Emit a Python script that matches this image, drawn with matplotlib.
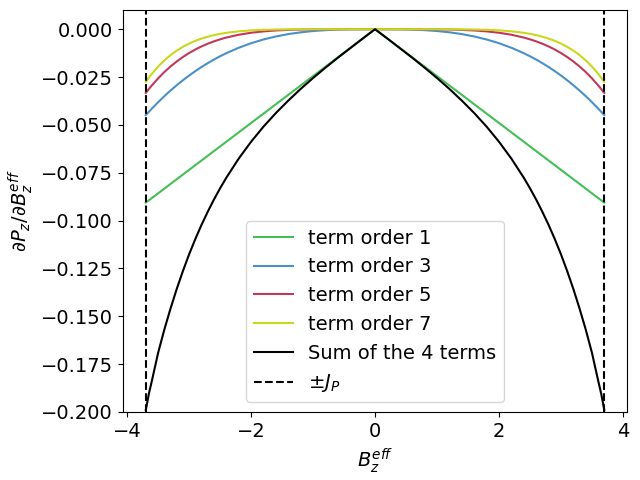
import matplotlib
matplotlib.use("Agg")
import matplotlib.pyplot as plt
import numpy as np

plt.rcParams['font.size'] = 14

# Values (positive half; curves are symmetric in B)
b_pos = [0.0, 0.2, 0.4, 0.6, 0.8, 1.0, 1.2, 1.4, 1.6, 1.8, 2.0, 2.2, 2.4,
         2.5, 2.6, 2.7, 2.8, 2.9, 3.0, 3.1, 3.2, 3.3, 3.4, 3.5, 3.6, 3.65, 3.7]
order1 = [0.0, -0.0049, -0.0098, -0.0147, -0.0196, -0.0245, -0.0294, -0.0343,
          -0.0392, -0.0441, -0.0490, -0.0539, -0.0588,
          -0.06125, -0.0637, -0.06615, -0.0686, -0.07105, -0.0735, -0.07595,
          -0.0784, -0.08085, -0.0833, -0.08575, -0.0882, -0.08943, -0.0906]
order3 = [0.0, -0.00001, -0.00006, -0.00021, -0.00049, -0.00095, -0.00162,
          -0.00255, -0.00379, -0.00536, -0.00731, -0.00969, -0.01252,
          -0.01413, -0.01585, -0.01773, -0.01973, -0.02188, -0.02419, -0.02664,
          -0.02927, -0.03204, -0.03498, -0.03811, -0.04142, -0.04314, -0.0449]
order5 = [0.0, 0.0, 0.0, -0.00001, -0.00002, -0.00007, -0.00017, -0.00035,
          -0.00065, -0.00113, -0.00185, -0.00289, -0.00435,
          -0.00528, -0.00634, -0.00757, -0.00898, -0.01060, -0.01243, -0.01450,
          -0.01684, -0.01945, -0.02237, -0.02565, -0.02928, -0.03124, -0.0333]
order7 = [0.0, 0.0, 0.0, 0.0, 0.0, -0.00001, -0.00003, -0.00007, -0.00015,
          -0.00032, -0.00061, -0.00110, -0.00188,
          -0.00242, -0.00309, -0.00390, -0.00488, -0.00607, -0.00749, -0.00918,
          -0.01118, -0.01353, -0.01628, -0.01948, -0.02320, -0.02528, -0.0275]
total = [0.0, -0.0049, -0.0099, -0.0149, -0.0201, -0.0255, -0.0312, -0.0373,
         -0.0438, -0.0509, -0.0588, -0.0676, -0.0776,
         -0.0831, -0.0890, -0.0954, -0.1022, -0.1096, -0.1176, -0.1263,
         -0.1357, -0.1459, -0.1569, -0.1690, -0.1835, -0.1905, -0.1990]
J_P = 3.7

labels = ["term order 1", "term order 3", "term order 5", "term order 7",
          "Sum of the 4 terms"]
colors = ["#44bf55", "#4a90c8", "#c0395a", "#c8d81a", "black"]


def mirror(xs, ys):
    xs = np.asarray(xs)
    ys = np.asarray(ys)
    return (np.concatenate([-xs[:0:-1], xs]),
            np.concatenate([ys[:0:-1], ys]))


fig, ax = plt.subplots(figsize=(6.4, 4.8), dpi=100)
fig.subplots_adjust(left=0.192, right=0.980, top=0.979, bottom=0.142)
for ys, lab, col in zip([order1, order3, order5, order7, total], labels, colors):
    x, y = mirror(b_pos, ys)
    ax.plot(x, y, color=col, label=lab, lw=1.5)

ax.axvline(-J_P, color='black', ls='--', lw=1.5, label=r'$\pm J_P$')
ax.axvline(J_P, color='black', ls='--', lw=1.5)

ax.set_ylim(-0.2, 0.01)
ax.set_xlabel(r'$B_z^{eff}$')
ax.set_ylabel(r'$\partial P_z/\partial B_z^{eff}$')
ax.legend(loc='lower center')
fig.savefig("out.png", dpi=100)
